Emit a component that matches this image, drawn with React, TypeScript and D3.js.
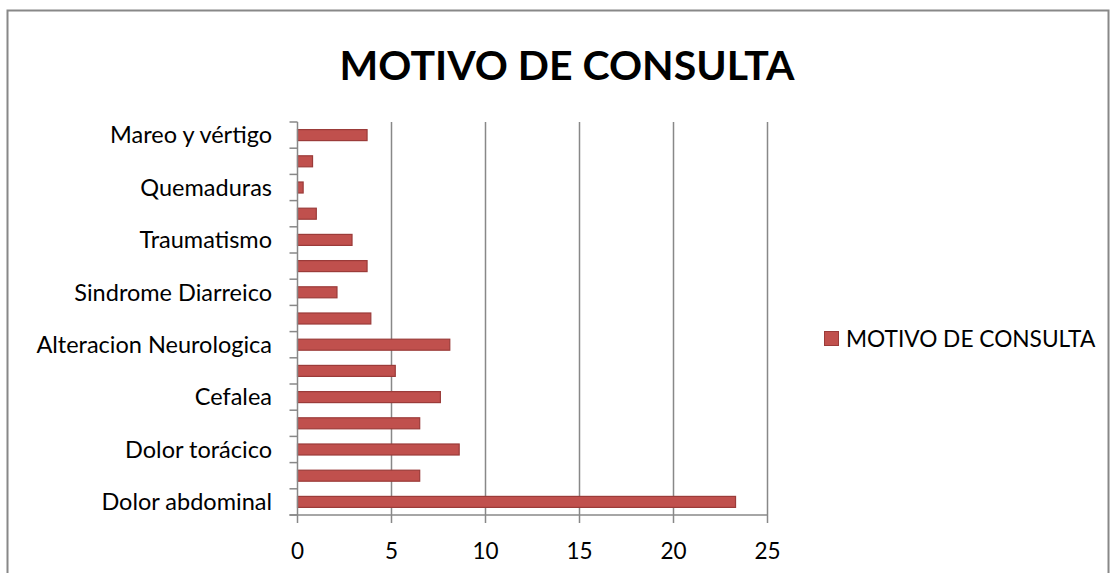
import React, { useEffect, useRef } from 'react'
import * as d3 from 'd3'

// categories from bottom to top; Excel only printed every other label
const categories = [
  'Dolor abdominal', '', 'Dolor torácico', '', 'Cefalea', '',
  'Alteracion Neurologica', '', 'Sindrome Diarreico', '', 'Traumatismo', '',
  'Quemaduras', '', 'Mareo y vértigo',
]
const values = [23.3, 6.5, 8.6, 6.5, 7.6, 5.2, 8.1, 3.9, 2.1, 3.7, 2.9, 1.0, 0.3, 0.8, 3.7]
const xTicks = [0, 5, 10, 15, 20, 25]
const seriesName = 'MOTIVO DE CONSULTA'

const FONT = 'Lato, "Open Sans", sans-serif'

function App() {
  const ref = useRef<SVGSVGElement>(null)

  useEffect(() => {
    const svg = d3.select(ref.current)
    svg.selectAll('*').remove()
    const W = 1110
    const H = 573
    const margin = { left: 297.5, right: 1110 - 767.5, top: 122, bottom: 573 - 515 }

    // chart area frame
    svg.append('rect')
      .attr('x', 7.5).attr('y', 10.5)
      .attr('width', W - 9).attr('height', H)
      .attr('fill', '#fff').attr('stroke', '#888').attr('stroke-width', 2)

    svg.append('text')
      .attr('x', 567).attr('y', 80)
      .attr('text-anchor', 'middle')
      .style('font-family', FONT).style('font-weight', 'bold').style('font-size', '41px')
      .text(seriesName)

    const x = d3.scaleLinear().domain([0, 25]).range([margin.left, W - margin.right])
    const idx = categories.map((_, i) => i)
    const y = d3.scaleBand<number>().domain(idx.slice().reverse())
      .range([margin.top, H - margin.bottom]).paddingInner(0.58).paddingOuter(0.29)

    const g = svg.append('g')

    // gridlines
    g.selectAll('line.grid').data(xTicks.slice(1)).enter().append('line')
      .attr('x1', (d) => x(d)).attr('x2', (d) => x(d))
      .attr('y1', margin.top).attr('y2', H - margin.bottom + 8)
      .attr('stroke', '#888').attr('stroke-width', 1.5)

    // bars
    g.selectAll('rect.bar').data(values).enter().append('rect')
      .attr('x', x(0))
      .attr('y', (_, i) => y(i)!)
      .attr('width', (d) => x(d) - x(0))
      .attr('height', y.bandwidth())
      .attr('fill', '#C0504D')
      .attr('stroke', '#9B3B39').attr('stroke-width', 1.2)

    // y axis line + ticks at band boundaries
    const step = y.step()
    const bottom = H - margin.bottom
    g.append('line').attr('x1', x(0)).attr('x2', x(0))
      .attr('y1', margin.top).attr('y2', bottom + 8)
      .attr('stroke', '#888').attr('stroke-width', 1.5)
    g.selectAll('line.ytick').data(d3.range(categories.length + 1)).enter().append('line')
      .attr('x1', x(0) - 8).attr('x2', x(0))
      .attr('y1', (d) => bottom - d * step).attr('y2', (d) => bottom - d * step)
      .attr('stroke', '#888').attr('stroke-width', 1.5)

    // x axis line
    g.append('line').attr('x1', x(0) - 8).attr('x2', x(25))
      .attr('y1', bottom).attr('y2', bottom)
      .attr('stroke', '#888').attr('stroke-width', 1.5)

    g.selectAll('text.ylab').data(idx.filter((i) => categories[i] !== '')).enter().append('text')
      .attr('x', 272)
      .attr('y', (d) => y(d)! + y.bandwidth() / 2)
      .attr('dy', '0.35em')
      .attr('text-anchor', 'end')
      .style('font-family', FONT).style('font-size', '23.5px')
      .text((d) => categories[d])

    g.selectAll('text.xlab').data(xTicks).enter().append('text')
      .attr('x', (d) => x(d))
      .attr('y', 551)
      .attr('dy', '0.35em')
      .attr('text-anchor', 'middle')
      .style('font-family', FONT).style('font-size', '22.5px')
      .text((d) => d)

    // legend
    svg.append('rect')
      .attr('x', 824.5).attr('y', 331.5).attr('width', 14).attr('height', 14)
      .attr('fill', '#C0504D').attr('stroke', '#9B3B39')
    svg.append('text')
      .attr('x', 846).attr('y', 339)
      .attr('dy', '0.35em')
      .style('font-family', FONT).style('font-size', '22.7px')
      .text(seriesName)
  }, [])

  return (
    <svg ref={ref} width={1110} height={573}
      style={{ position: 'absolute', left: 0, top: 0, background: '#fff' }} />
  )
}

export default App
